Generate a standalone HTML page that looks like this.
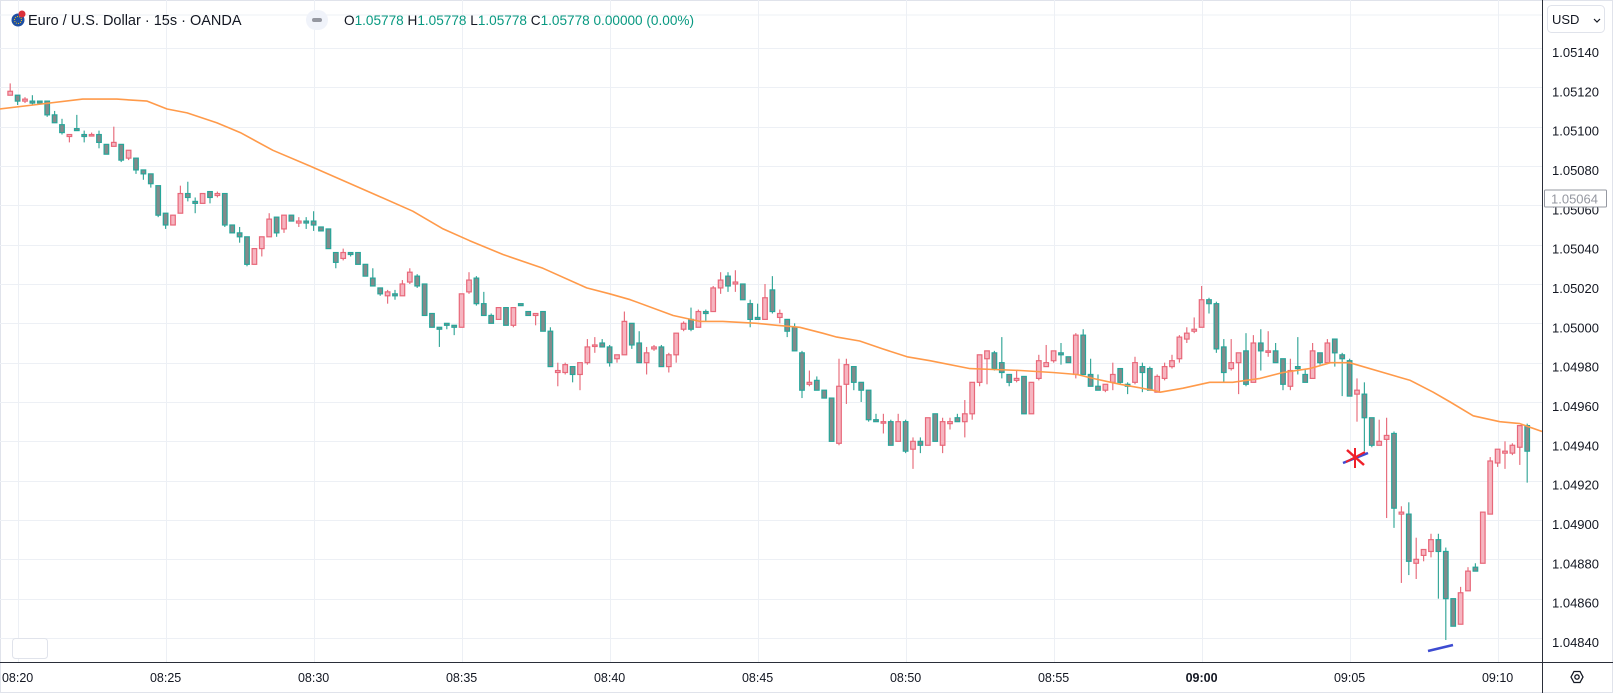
<!DOCTYPE html>
<html><head><meta charset="utf-8">
<style>
html,body{margin:0;padding:0;background:#fff;overflow:hidden;}
body{width:1613px;height:693px;overflow:hidden;position:relative;font-family:"Liberation Sans",sans-serif;}
#frame{position:absolute;left:0;top:0;width:1611px;height:691px;border:1px solid #e0e3eb;}
svg{position:absolute;left:0;top:0;display:block;}
</style></head>
<body>
<div id="frame"></div>
<svg id="chart" width="1613" height="693"></svg>
<script>
// ---- data ----
const startTime = "08:19:45";
const opens  = [1.05116,1.05116,1.05113,1.05113,1.05113,1.05113,1.05106,1.05101,1.05095,1.05099,1.05096,1.05096,1.05096,1.05091,1.05090,1.05091,1.05084,1.05084,1.05078,1.05076,1.05070,1.05056,1.05050,1.05056,1.05066,1.05062,1.05061,1.05067,1.05065,1.05066,1.05050,1.05046,1.05044,1.05030,1.05038,1.05044,1.05054,1.05048,1.05055,1.05051,1.05052,1.05052,1.05049,1.05048,1.05036,1.05033,1.05036,1.05036,1.05030,1.05023,1.05018,1.05014,1.05015,1.05014,1.05021,1.05024,1.05020,1.05005,1.04998,1.05000,1.04999,1.04998,1.05016,1.05023,1.05010,1.05004,1.05002,1.05008,1.04999,1.05010,1.05006,1.05004,1.05006,1.04996,1.04975,1.04975,1.04978,1.04974,1.04980,1.04989,1.04990,1.04988,1.04982,1.04984,1.05000,1.04990,1.04980,1.04987,1.04988,1.04978,1.04984,1.04997,1.05002,1.04998,1.05006,1.05006,1.05018,1.05024,1.05020,1.05020,1.05010,1.05003,1.05002,1.05017,1.05003,1.05002,1.04998,1.04985,1.04969,1.04971,1.04966,1.04962,1.04939,1.04969,1.04978,1.04970,1.04966,1.04951,1.04950,1.04950,1.04940,1.04950,1.04936,1.04940,1.04938,1.04954,1.04938,1.04949,1.04952,1.04950,1.04954,1.04970,1.04982,1.04985,1.04980,1.04974,1.04971,1.04973,1.04954,1.04972,1.04978,1.04981,1.04985,1.04983,1.04974,1.04994,1.04974,1.04968,1.04966,1.04970,1.04977,1.04969,1.04970,1.04978,1.04977,1.04965,1.04972,1.04978,1.04982,1.04992,1.04996,1.04998,1.05012,1.05010,1.04988,1.04977,1.04980,1.04986,1.04970,1.04990,1.04986,1.04986,1.04982,1.04968,1.04978,1.04974,1.04972,1.04985,1.04980,1.04992,1.04984,1.04981,1.04964,1.04964,1.04952,1.04938,1.04941,1.04944,1.04903,1.04903,1.04878,1.04882,1.04884,1.04890,1.04884,1.04860,1.04847,1.04864,1.04876,1.04878,1.04903,1.04929,1.04934,1.04934,1.04937,1.04948,1.04934];
const highs  = [1.05122,1.05116,1.05115,1.05116,1.05113,1.05113,1.05108,1.05104,1.05096,1.05106,1.05098,1.05097,1.05098,1.05091,1.05100,1.05091,1.05088,1.05084,1.05078,1.05076,1.05070,1.05056,1.05055,1.05070,1.05072,1.05064,1.05066,1.05067,1.05067,1.05066,1.05050,1.05049,1.05044,1.05038,1.05044,1.05056,1.05054,1.05055,1.05055,1.05054,1.05054,1.05057,1.05049,1.05048,1.05036,1.05038,1.05036,1.05036,1.05030,1.05028,1.05018,1.05017,1.05017,1.05022,1.05028,1.05025,1.05020,1.05005,1.04998,1.05000,1.04999,1.05015,1.05026,1.05024,1.05016,1.05005,1.05008,1.05008,1.05008,1.05010,1.05006,1.05005,1.05006,1.04998,1.04980,1.04980,1.04978,1.04980,1.04992,1.04993,1.04992,1.04989,1.04984,1.05006,1.05000,1.04996,1.04988,1.04989,1.04989,1.04985,1.04995,1.05001,1.05008,1.05007,1.05007,1.05019,1.05026,1.05026,1.05027,1.05020,1.05012,1.05010,1.05020,1.05024,1.05007,1.05002,1.05000,1.04986,1.04976,1.04973,1.04966,1.04962,1.04982,1.04982,1.04978,1.04970,1.04966,1.04954,1.04954,1.04951,1.04954,1.04951,1.04942,1.04942,1.04952,1.04954,1.04952,1.04952,1.04954,1.04961,1.04970,1.04984,1.04986,1.04986,1.04993,1.04974,1.04976,1.04973,1.04970,1.04984,1.04989,1.04986,1.04990,1.04983,1.04995,1.04997,1.04982,1.04974,1.04969,1.04980,1.04977,1.04970,1.04983,1.04980,1.04978,1.04974,1.04980,1.04984,1.04994,1.04998,1.05003,1.05019,1.05013,1.05011,1.04992,1.04992,1.04985,1.04995,1.04994,1.04997,1.04996,1.04990,1.04982,1.04982,1.04993,1.04977,1.04990,1.04985,1.04992,1.04992,1.04985,1.04982,1.04972,1.04970,1.04952,1.04951,1.04952,1.04945,1.04907,1.04909,1.04891,1.04885,1.04893,1.04893,1.04886,1.04860,1.04866,1.04876,1.04878,1.04904,1.04932,1.04936,1.04940,1.04939,1.04948,1.04949,1.04935];
const lows   = [1.05116,1.05111,1.05112,1.05111,1.05112,1.05105,1.05102,1.05096,1.05092,1.05098,1.05092,1.05095,1.05089,1.05086,1.05090,1.05082,1.05083,1.05076,1.05073,1.05069,1.05054,1.05048,1.05050,1.05056,1.05062,1.05056,1.05061,1.05061,1.05064,1.05049,1.05046,1.05041,1.05029,1.05030,1.05034,1.05044,1.05044,1.05046,1.05052,1.05049,1.05048,1.05047,1.05047,1.05038,1.05028,1.05032,1.05034,1.05030,1.05024,1.05019,1.05014,1.05010,1.05012,1.05014,1.05020,1.05018,1.05004,1.04998,1.04988,1.04997,1.04994,1.04998,1.05015,1.05009,1.05004,1.05000,1.05002,1.04999,1.04998,1.05009,1.05004,1.04999,1.04996,1.04978,1.04968,1.04974,1.04970,1.04966,1.04979,1.04985,1.04988,1.04978,1.04980,1.04984,1.04987,1.04980,1.04974,1.04986,1.04978,1.04975,1.04980,1.04996,1.04996,1.04998,1.05001,1.05006,1.05015,1.05016,1.05016,1.05012,1.04998,1.05002,1.05002,1.05005,1.05000,1.04993,1.04986,1.04962,1.04968,1.04966,1.04962,1.04940,1.04938,1.04959,1.04966,1.04960,1.04950,1.04950,1.04944,1.04938,1.04940,1.04934,1.04926,1.04934,1.04938,1.04940,1.04934,1.04946,1.04950,1.04942,1.04951,1.04968,1.04969,1.04976,1.04972,1.04968,1.04970,1.04954,1.04954,1.04971,1.04978,1.04980,1.04979,1.04980,1.04972,1.04974,1.04968,1.04966,1.04965,1.04966,1.04969,1.04964,1.04969,1.04965,1.04966,1.04965,1.04971,1.04977,1.04980,1.04990,1.04995,1.04998,1.05005,1.04985,1.04970,1.04976,1.04964,1.04968,1.04970,1.04976,1.04983,1.04980,1.04966,1.04966,1.04974,1.04970,1.04972,1.04979,1.04982,1.04978,1.04963,1.04963,1.04950,1.04935,1.04937,1.04940,1.04896,1.04896,1.04868,1.04872,1.04870,1.04879,1.04881,1.04860,1.04839,1.04847,1.04851,1.04866,1.04878,1.04903,1.04918,1.04927,1.04926,1.04933,1.04928,1.04919];
const closes = [1.05118,1.05113,1.05114,1.05112,1.05112,1.05106,1.05102,1.05097,1.05096,1.05098,1.05095,1.05096,1.05092,1.05086,1.05092,1.05083,1.05088,1.05078,1.05076,1.05071,1.05055,1.05050,1.05055,1.05066,1.05064,1.05061,1.05066,1.05064,1.05066,1.05050,1.05046,1.05044,1.05030,1.05038,1.05044,1.05053,1.05046,1.05055,1.05052,1.05052,1.05051,1.05050,1.05047,1.05038,1.05031,1.05036,1.05035,1.05030,1.05024,1.05019,1.05015,1.05016,1.05014,1.05020,1.05026,1.05019,1.05004,1.04998,1.04997,1.04999,1.04998,1.05015,1.05022,1.05010,1.05004,1.05000,1.05008,1.04999,1.05008,1.05009,1.05004,1.05005,1.04996,1.04978,1.04976,1.04979,1.04974,1.04980,1.04988,1.04989,1.04988,1.04980,1.04984,1.05001,1.04989,1.04980,1.04985,1.04988,1.04978,1.04984,1.04995,1.05000,1.04997,1.05006,1.05005,1.05018,1.05022,1.05019,1.05021,1.05012,1.05002,1.05002,1.05013,1.05006,1.05005,1.04996,1.04986,1.04966,1.04970,1.04966,1.04962,1.04940,1.04968,1.04979,1.04970,1.04966,1.04951,1.04950,1.04950,1.04938,1.04950,1.04935,1.04940,1.04938,1.04952,1.04940,1.04950,1.04950,1.04950,1.04954,1.04970,1.04984,1.04986,1.04977,1.04975,1.04970,1.04972,1.04954,1.04970,1.04981,1.04980,1.04986,1.04984,1.04980,1.04994,1.04974,1.04968,1.04966,1.04969,1.04974,1.04970,1.04968,1.04980,1.04975,1.04966,1.04973,1.04978,1.04981,1.04993,1.04995,1.04997,1.05012,1.05010,1.04987,1.04975,1.04980,1.04985,1.04969,1.04990,1.04986,1.04986,1.04980,1.04969,1.04976,1.04977,1.04970,1.04986,1.04980,1.04990,1.04985,1.04982,1.04963,1.04966,1.04952,1.04938,1.04940,1.04943,1.04906,1.04904,1.04879,1.04880,1.04885,1.04890,1.04884,1.04860,1.04846,1.04863,1.04874,1.04874,1.04904,1.04930,1.04936,1.04935,1.04938,1.04948,1.04935,1.04920];
const maIndex  = [-1.4,3.1,9.8,14.4,18.5,21.2,23.9,27.9,31.1,35.5,40.5,49.6,54.4,58.5,62.1,66.6,72,77.9,81,83.8,89.6,93.2,96.3,100.9,103.6,106.7,109.8,111.7,114.8,117.9,121.2,124.3,129.7,136.5,140.9,144.2,146.3,150,154.4,155.4,158.5,162.1,165.2,168.9,172,175.6,178.4,181,189.2,192.3,194.6,197.7,201.3,204,207];
const maValues = [1.05109,1.05111,1.05114,1.05114,1.05113,1.05109,1.05107,1.05102,1.05097,1.05088,1.05080,1.05065,1.05057,1.05048,1.05042,1.05035,1.05028,1.05018,1.05015,1.05012,1.05004,1.05001,1.05001,1.05000,1.04999,1.04998,1.04995,1.04993,1.04991,1.04987,1.04983,1.04981,1.04977,1.04976,1.04975,1.04974,1.04972,1.04969,1.04966,1.04965,1.04967,1.04970,1.04970,1.04972,1.04975,1.04977,1.04980,1.04980,1.04971,1.04965,1.04960,1.04953,1.04950,1.04949,1.04945];
const priceTicks = [1.05140,1.05120,1.05100,1.05080,1.05060,1.05040,1.05020,1.05000,1.04980,1.04960,1.04940,1.04920,1.04900,1.04880,1.04860,1.04840];
const timeLabels = ["08:20","08:25","08:30","08:35","08:40","08:45","08:50","08:55","09:00","09:05","09:10"];
const timeLabelIndex = [1,21,41,61,81,101,121,141,161,181,201];
const lastPrice = 1.05064;

// ---- axes ----
const PLOT_R = 1542, AXIS_Y = 662;
function yOf(p){ return 48 + (1.05140 - p) / 0.003 * 590; }
function xOf(i){ return 10.2 + 7.4 * i; }

const NS = "http://www.w3.org/2000/svg";
const svg = document.getElementById('chart');
function mk(tag, attrs, parent){
  const e = document.createElementNS(NS, tag);
  for (const k in attrs) e.setAttribute(k, attrs[k]);
  (parent || svg).appendChild(e);
  return e;
}

const defs = mk('clipPath', {id:'plotclip'});
mk('rect', {x:0, y:0, width:PLOT_R, height:AXIS_Y}, defs);

const grid = mk('g', {});


mk('line', {x1:0, x2:PLOT_R, y1:15, y2:15, stroke:'#edf0f5', 'stroke-width':1}, grid);
priceTicks.forEach(p => {
  const y = Math.round(yOf(p)) + 0.5;
  const l = mk('line', {x1:0, x2:PLOT_R, y1:y, y2:y, stroke:'#edf0f5', 'stroke-width':1}, grid);
  
  
});
timeLabelIndex.forEach(i => {
  const x = Math.round(xOf(i)) + 0.5;
  const l = mk('line', {x1:x, x2:x, y1:0, y2:AXIS_Y, stroke:'#edf0f5', 'stroke-width':1}, grid);
  
  
});

// ---- candles ----
const cg = mk('g', {'clip-path':'url(#plotclip)'});


const N = Math.min(opens.length, highs.length, lows.length, closes.length);
for (let i = 0; i < N; i++){
  const o = opens[i], c = closes[i];
  let h = highs[i], l = lows[i];
  if ([o, c, h, l].some(v => typeof v !== 'number' || isNaN(v))) continue;
  const bt = Math.max(o, c), bb = Math.min(o, c);
  h = Math.min(Math.max(h, bt), bt + 0.0004);
  l = Math.max(Math.min(l, bb), bb - 0.0004);
  const up = c >= o;
  const x = xOf(i);
  const g = mk('g', {}, cg);
  
  
  mk('line', {x1:x, x2:x, y1:yOf(h), y2:yOf(l), stroke: up ? '#e8707f' : '#3aa99b', 'stroke-width':1.2}, g);
  const top = yOf(bt), bot = yOf(bb);
  const hgt = Math.max(bot - top, 1.5);
  mk('rect', {x:x-2.3, y:top, width:4.6, height:hgt, fill: up ? '#f6b5c0' : '#838a8b', stroke: up ? '#e8687a' : '#26a69a', 'stroke-width':1.2}, g);
}

// ---- moving average ----
let d = '';
maIndex.forEach((t, k) => { d += (k ? 'L' : 'M') + xOf(t).toFixed(1) + ',' + yOf(maValues[k]).toFixed(1); });
const ma = mk('path', {d:d, fill:'none', stroke:'#ff9a4a', 'stroke-width':1.6, 'stroke-linejoin':'round', 'clip-path':'url(#plotclip)'});



// ---- drawings ----
const dr = mk('g', {});


mk('line', {x1:1343, y1:463, x2:1368, y2:453, stroke:'#3d4bd1', 'stroke-width':2.5}, dr);
mk('line', {x1:1347, y1:450, x2:1364, y2:465, stroke:'#f0202a', 'stroke-width':2.5}, dr);
mk('line', {x1:1355, y1:448, x2:1355, y2:468, stroke:'#f0202a', 'stroke-width':2}, dr);
mk('line', {x1:1346, y1:462, x2:1365, y2:452, stroke:'#f0202a', 'stroke-width':2}, dr);
mk('line', {x1:1428, y1:651, x2:1453, y2:645, stroke:'#3d4bd1', 'stroke-width':2.5}, dr);

// ---- axes lines ----
mk('line', {x1:PLOT_R+0.5, x2:PLOT_R+0.5, y1:0, y2:693, stroke:'#2a2e39', 'stroke-width':1});
mk('line', {x1:0, x2:1613, y1:AXIS_Y+0.5, y2:AXIS_Y+0.5, stroke:'#2a2e39', 'stroke-width':1});

// price labels
priceTicks.forEach(p => {
  const t = mk('text', {x:1552, y:yOf(p)+9, 'font-size':13, fill:'#131722', 'font-family':'Liberation Sans, sans-serif'});
  t.textContent = p.toFixed(5);
  
  
});
// last price label
const lpY = yOf(lastPrice);
const lpb = mk('rect', {x:1544.5, y:lpY-7.5, width:62, height:17, fill:'#fff', stroke:'#9598a1', 'stroke-width':1, rx:1});


const lpt = mk('text', {x:1551, y:lpY+6, 'font-size':13, fill:'#9598a1', 'font-family':'Liberation Sans, sans-serif'});
lpt.textContent = lastPrice.toFixed(5);



// time labels
timeLabels.forEach((s, k) => {
  const t = mk('text', {x:xOf(timeLabelIndex[k]), y:682, 'font-size':12.5, fill:'#131722', 'text-anchor':'middle', 'font-family':'Liberation Sans, sans-serif', 'font-weight': s === '09:00' ? 'bold' : 'normal'});
  t.textContent = s;
  
  
});

// USD box
const ub = mk('g', {});


mk('rect', {x:1547.5, y:5.5, width:57, height:27, rx:4, fill:'#fff', stroke:'#e0e3eb'}, ub);
const ut = mk('text', {x:1552, y:24, 'font-size':13, fill:'#131722', 'font-family':'Liberation Sans, sans-serif'}, ub);
ut.textContent = 'USD';
mk('path', {d:'M1594,19 L1597,22 L1600,19', fill:'none', stroke:'#131722', 'stroke-width':1.2}, ub);

// settings icon
const si = mk('g', {});


mk('path', {d:'M1571,677 L1574,671.5 L1580,671.5 L1583,677 L1580,682.5 L1574,682.5 Z', fill:'none', stroke:'#131722', 'stroke-width':1.3}, si);
mk('circle', {cx:1577, cy:677, r:2.2, fill:'none', stroke:'#131722', 'stroke-width':1.3}, si);

// bottom-left button
const bl = mk('rect', {x:12.5, y:638.5, width:35, height:20, rx:3, fill:'#fff', stroke:'#e0e3eb'});



// header
const hd = mk('g', {});


mk('circle', {cx:18, cy:20, r:6.5, fill:'#1e4fa3'}, hd);
mk('circle', {cx:22, cy:14, r:3.5, fill:'#d9303a'}, hd);
mk('circle', {cx:18, cy:20, r:3.5, fill:'none', stroke:'#f5c518', 'stroke-width':1, 'stroke-dasharray':'1 1.2'}, hd);
const title = mk('text', {x:28, y:25, 'font-size':14.5, fill:'#131722', 'font-family':'Liberation Sans, sans-serif'}, hd);
title.textContent = 'Euro / U.S. Dollar · 15s · OANDA';


const pill = mk('rect', {x:306, y:10, width:22, height:20, rx:10, fill:'#f0f3fa'});


mk('rect', {x:312, y:18, width:10, height:4, rx:2, fill:'#9598a1'});
const ohlc = mk('text', {x:344, y:25, 'font-size':13.6, fill:'#089981', 'font-family':'Liberation Sans, sans-serif'}, hd);


[['O','1.05778 '],['H','1.05778 '],['L','1.05778 '],['C','1.05778 '],['','0.00000 (0.00%)']].forEach(([a,b]) => {
  if (a){ const s1 = mk('tspan', {fill:'#131722'}, ohlc); s1.textContent = a; }
  const s2 = mk('tspan', {fill:'#089981'}, ohlc); s2.textContent = b;
});
</script>
</body></html>
